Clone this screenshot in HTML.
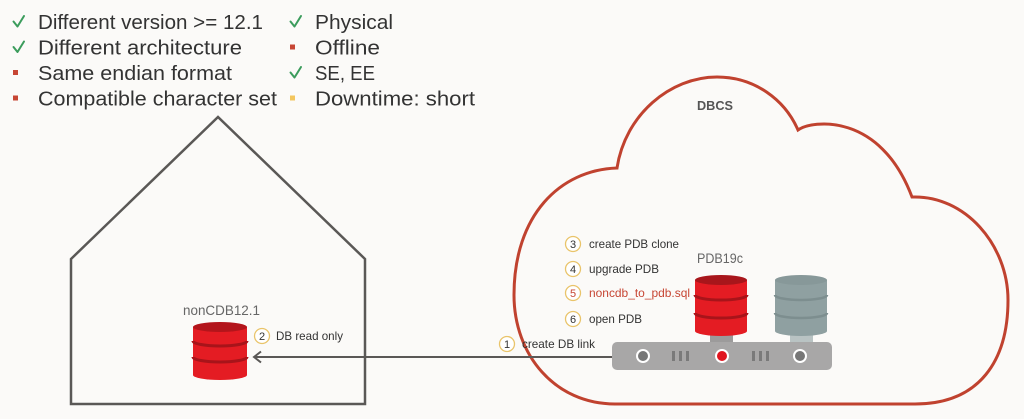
<!DOCTYPE html>
<html>
<head>
<meta charset="utf-8">
<style>
html,body{margin:0;padding:0;background:#fbfaf8;}
svg{display:block;}
text{font-family:"Liberation Sans",sans-serif;}
</style>
</head>
<body>
<svg width="1024" height="419" viewBox="0 0 1024 419" xmlns="http://www.w3.org/2000/svg">
<rect x="0" y="0" width="1024" height="419" fill="#fbfaf8"/>

<!-- Top list -->
<g fill="#333" font-size="20.5">
  <text x="38" y="29" textLength="225" lengthAdjust="spacingAndGlyphs">Different version &gt;= 12.1</text>
  <text x="38" y="54.5" textLength="204" lengthAdjust="spacingAndGlyphs">Different architecture</text>
  <text x="38" y="80" textLength="194" lengthAdjust="spacingAndGlyphs">Same endian format</text>
  <text x="38" y="105.5" textLength="239" lengthAdjust="spacingAndGlyphs">Compatible character set</text>
  <text x="315" y="29" textLength="78" lengthAdjust="spacingAndGlyphs">Physical</text>
  <text x="315" y="54.5" textLength="65" lengthAdjust="spacingAndGlyphs">Offline</text>
  <text x="315" y="80" textLength="60" lengthAdjust="spacingAndGlyphs">SE, EE</text>
  <text x="315" y="105.5" textLength="160" lengthAdjust="spacingAndGlyphs">Downtime: short</text>
</g>
<g fill="none" stroke="#3b9c5c" stroke-width="2" stroke-linecap="round" stroke-linejoin="round">
  <path d="M13.5,21.5 L17.5,26.5 L24,16"/>
  <path d="M13.5,47 L17.5,52 L24,41.5"/>
  <path d="M290.5,21.5 L294.5,26.5 L301,16"/>
  <path d="M290.5,72.5 L294.5,77.5 L301,67"/>
</g>
<rect x="13" y="70" width="5" height="5" fill="#c74634"/>
<rect x="13" y="95.5" width="5" height="5" fill="#c74634"/>
<rect x="290" y="44.5" width="5" height="5" fill="#c74634"/>
<rect x="290" y="95.5" width="5" height="5" fill="#f3c65e"/>

<!-- House -->
<polygon points="71,404 71,259 218,117 365,259 365,404" fill="none" stroke="#5a5856" stroke-width="2.5" stroke-linejoin="miter"/>

<!-- Cloud -->
<path d="M617,168 C625,115 670,77 717,77 C755,77 785,100 798,130 C812,120 880,112 912,197 C965,195 1008,245 1008,300 C1008,360 980,404 915,404 L615,404 C555,404 514,355 514,295 C514,215 560,170 617,168 Z" fill="none" stroke="#c0422f" stroke-width="3"/>

<text x="697" y="110" font-size="12.5" font-weight="bold" fill="#555" textLength="36" lengthAdjust="spacingAndGlyphs">DBCS</text>

<!-- Arrow -->
<line x1="612" y1="357" x2="254" y2="357" stroke="#5a5856" stroke-width="2"/>
<path d="M261,351.5 L254,357 L261,362.5" fill="none" stroke="#5a5856" stroke-width="2"/>

<!-- nonCDB database -->
<text x="183" y="315" font-size="14" fill="#666" textLength="77" lengthAdjust="spacingAndGlyphs">nonCDB12.1</text>
<g>
  <path d="M193,327 L193,375 A27,5 0 0 0 247,375 L247,327 Z" fill="#e41c23"/>
  <ellipse cx="220" cy="327" rx="27" ry="5" fill="#b3151b"/>
  <path d="M193,341 A27,5 0 0 0 247,341" fill="none" stroke="#a8141a" stroke-width="3"/>
  <path d="M193,357 A27,5 0 0 0 247,357" fill="none" stroke="#a8141a" stroke-width="3"/>
</g>
<circle cx="262" cy="336" r="7.5" fill="#fff" stroke="#e9c46a" stroke-width="1.3"/>
<text x="262" y="340" font-size="11" fill="#333" text-anchor="middle">2</text>
<text x="276" y="340" font-size="12" fill="#333" textLength="67" lengthAdjust="spacingAndGlyphs">DB read only</text>

<!-- Steps -->
<g font-size="12" fill="#333">
  <circle cx="573" cy="244" r="7.5" fill="#fff" stroke="#e9c46a" stroke-width="1.3"/>
  <text x="573" y="248" font-size="11" text-anchor="middle">3</text>
  <text x="589" y="248" textLength="90" lengthAdjust="spacingAndGlyphs">create PDB clone</text>

  <circle cx="573" cy="269" r="7.5" fill="#fff" stroke="#e9c46a" stroke-width="1.3"/>
  <text x="573" y="273" font-size="11" text-anchor="middle">4</text>
  <text x="589" y="273" textLength="70" lengthAdjust="spacingAndGlyphs">upgrade PDB</text>

  <circle cx="573" cy="293" r="7.5" fill="#fff" stroke="#e9c46a" stroke-width="1.3"/>
  <text x="573" y="297" font-size="11" text-anchor="middle" fill="#c74634">5</text>
  <text x="589" y="297" textLength="101" lengthAdjust="spacingAndGlyphs" fill="#c74634">noncdb_to_pdb.sql</text>

  <circle cx="573" cy="319" r="7.5" fill="#fff" stroke="#e9c46a" stroke-width="1.3"/>
  <text x="573" y="323" font-size="11" text-anchor="middle">6</text>
  <text x="589" y="323" textLength="53" lengthAdjust="spacingAndGlyphs">open PDB</text>

  <circle cx="507" cy="344" r="7.5" fill="#fff" stroke="#e9c46a" stroke-width="1.3"/>
  <text x="507" y="348" font-size="11" text-anchor="middle">1</text>
  <text x="522" y="348" textLength="73" lengthAdjust="spacingAndGlyphs">create DB link</text>
</g>

<!-- PDB19c label -->
<text x="697" y="263" font-size="14" fill="#666" textLength="46" lengthAdjust="spacingAndGlyphs">PDB19c</text>

<!-- necks -->
<rect x="710" y="334" width="23" height="9" fill="#9c9b9b"/>
<rect x="790" y="334" width="23" height="9" fill="#b9c3c3"/>

<!-- Red PDB database -->
<g>
  <path d="M695,280 L695,331 A26,5 0 0 0 747,331 L747,280 Z" fill="#e41c23"/>
  <ellipse cx="721" cy="280" rx="26" ry="5" fill="#a8161b"/>
  <path d="M695,295 A26,5 0 0 0 747,295" fill="none" stroke="#a8141a" stroke-width="3"/>
  <path d="M695,313 A26,5 0 0 0 747,313" fill="none" stroke="#a8141a" stroke-width="3"/>
</g>
<!-- Gray database -->
<g>
  <path d="M775,280 L775,331 A26,5 0 0 0 827,331 L827,280 Z" fill="#8fa0a1"/>
  <ellipse cx="801" cy="280" rx="26" ry="5" fill="#879899"/>
  <path d="M775,295 A26,5 0 0 0 827,295" fill="none" stroke="#7d8e8f" stroke-width="2.5"/>
  <path d="M775,313 A26,5 0 0 0 827,313" fill="none" stroke="#7d8e8f" stroke-width="2.5"/>
</g>

<!-- Server bar -->
<rect x="612" y="342" width="220" height="28" rx="5" ry="5" fill="#a8a7a7"/>
<circle cx="643" cy="356" r="6" fill="#777" stroke="#fff" stroke-width="2"/>
<circle cx="722" cy="356" r="6" fill="#e0141e" stroke="#fff" stroke-width="2"/>
<circle cx="800" cy="356" r="6" fill="#777" stroke="#fff" stroke-width="2"/>
<g fill="#7a7a7a">
  <rect x="672" y="351" width="3" height="10"/>
  <rect x="679" y="351" width="3" height="10"/>
  <rect x="686" y="351" width="3" height="10"/>
  <rect x="752" y="351" width="3" height="10"/>
  <rect x="759" y="351" width="3" height="10"/>
  <rect x="766" y="351" width="3" height="10"/>
</g>
</svg>
</body>
</html>
